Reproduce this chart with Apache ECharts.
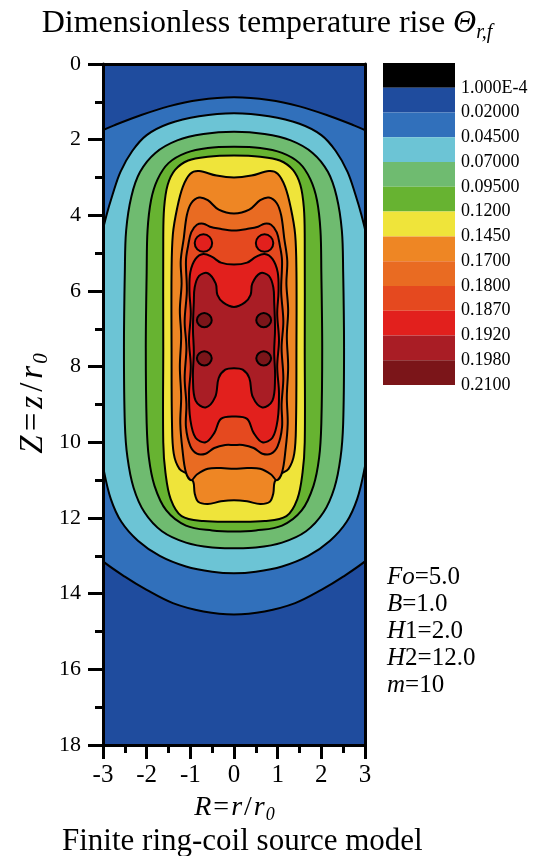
<!DOCTYPE html>
<html><head><meta charset="utf-8">
<script src="https://cdn.jsdelivr.net/npm/echarts@6/dist/echarts.min.js"></script>
<style>html,body{margin:0;padding:0;background:#fff}#c{width:534px;height:856px}</style>
</head><body><div id="c"></div>
<script>
// ---- legend levels and colours ----
const levelLabels = ['1.000E-4','0.02000','0.04500','0.07000','0.09500','0.1200','0.1450','0.1700','0.1800','0.1870','0.1920','0.1980','0.2100'];
const bandColors = ['#000000','#1f4c9e','#3170bb','#6cc4d5','#6fbb70','#67b331','#efe43a','#ee8624','#e96b22','#e5491f','#e2201d','#a91d25','#7b1519'];

// ---- contour lines, right half (R>=0), [R, Z] from top centre to bottom centre ----
const c020 = [[0,0.88],[0.8,0.95],[1.5,1.12],[2.2,1.38],[2.7,1.6],[3.05,1.78],[3.4,2.05],[3.7,2.5],[3.9,3.5],[4.0,7.5],[3.9,11.5],[3.6,12.5],[3.05,13.1],[2.5,13.55],[2.0,13.9],[1.4,14.25],[0.7,14.47],[0,14.55]];
const c045 = [[0,1.3],[0.8,1.38],[1.5,1.58],[2.0,1.88],[2.33,2.3],[2.6,2.85],[2.78,3.45],[2.92,4.0],[3.04,4.6],[3.12,5.5],[3.14,7.5],[3.08,10],[2.98,10.75],[2.82,11.5],[2.58,12.1],[2.2,12.6],[1.7,13.0],[1.1,13.28],[0.5,13.42],[0,13.46]];
const c070 = [[0,1.79],[0.7,1.85],[1.3,2.02],[1.8,2.35],[2.15,2.85],[2.35,3.5],[2.47,4.4],[2.5,5.5],[2.52,7.5],[2.5,9.5],[2.44,10.4],[2.3,11.2],[2.05,11.85],[1.65,12.35],[1.1,12.65],[0.5,12.78],[0,12.8]];
const c095 = [[0,2.19],[0.6,2.22],[1.1,2.35],[1.5,2.62],[1.75,3.05],[1.9,3.6],[1.98,4.4],[2.0,5.5],[2.02,7.5],[2.0,9.5],[1.95,10.4],[1.82,11.15],[1.55,11.8],[1.1,12.2],[0.5,12.33],[0,12.36]];
const c120 = [[0,2.42],[0.6,2.45],[1.05,2.55],[1.35,2.8],[1.52,3.2],[1.6,3.8],[1.62,4.6],[1.62,7.5],[1.62,10],[1.57,10.8],[1.45,11.5],[1.2,11.95],[0.7,12.08],[0,12.1]];
const c145 = [[0,3.0],[0.4,2.95],[0.8,2.83],[1.0,2.9],[1.17,3.24],[1.3,3.8],[1.4,4.5],[1.43,5.5],[1.43,7.5],[1.42,9.5],[1.38,10.3],[1.25,10.7],[1.05,10.85],[0.93,11.05],[0.9,11.35],[0.82,11.57],[0.6,11.63],[0.3,11.56],[0,11.53]];
const c170 = [[0,3.95],[0.35,3.85],[0.6,3.6],[0.8,3.53],[0.98,3.68],[1.08,4.0],[1.15,4.6],[1.22,5.2],[1.2,5.8],[1.24,6.5],[1.21,7.2],[1.24,8],[1.21,8.8],[1.23,9.5],[1.18,10.2],[1.1,10.8],[0.98,11.0],[0.85,10.85],[0.6,10.7],[0.3,10.68],[0,10.7]];
const c180 = [[0,4.4],[0.35,4.35],[0.55,4.3],[0.7,4.22],[0.85,4.25],[0.98,4.45],[1.05,4.8],[1.1,5.2],[1.08,6],[1.13,6.8],[1.09,7.5],[1.13,8.3],[1.09,9],[1.1,9.6],[1.0,10.1],[0.85,10.3],[0.65,10.3],[0.45,10.15],[0.2,10.07],[0,10.07]];
const c187 = [[0,5.3],[0.3,5.25],[0.5,5.1],[0.7,5.02],[0.88,5.15],[1.0,5.5],[1.02,6],[0.99,6.6],[1.03,7.3],[0.99,8],[1.03,8.7],[1.0,9.4],[0.88,9.88],[0.65,10.0],[0.45,9.75],[0.3,9.38],[0,9.32]];
const c192 = [[0,6.42],[0.25,6.3],[0.38,6.1],[0.42,5.8],[0.6,5.53],[0.8,5.6],[0.9,5.9],[0.92,6.3],[0.94,7],[0.92,7.6],[0.94,8.3],[0.88,8.9],[0.65,9.08],[0.43,8.8],[0.35,8.3],[0.2,8.08],[0,8.04]];
// islands (right-hand ones; left ones are their mirror images)
const i187 = [[0.7,4.5],[0.84,4.57],[0.9,4.73],[0.84,4.9],[0.7,4.96],[0.56,4.9],[0.5,4.73],[0.56,4.57]];
const i198a = [[0.68,6.58],[0.8,6.64],[0.85,6.77],[0.8,6.9],[0.68,6.96],[0.56,6.9],[0.51,6.77],[0.56,6.64]];
const i198b = [[0.68,7.59],[0.8,7.65],[0.85,7.78],[0.8,7.91],[0.68,7.97],[0.56,7.91],[0.51,7.78],[0.56,7.65]];

// parameter annotations
const paramLines = [['Fo','=5.0'],['B','=1.0'],['H','1=2.0'],['H','2=12.0'],['m','=10']];

function full(half){
  return half.concat(half.slice(1,-1).reverse().map(p=>[-p[0],p[1]]));
}
function mirror(pts){ return pts.map(p=>[-p[0],p[1]]); }

const shapes = [
  [full(c020), bandColors[2], 0.35],
  [full(c045), bandColors[3], 0.35],
  [full(c070), bandColors[4], 0.35],
  [full(c095), bandColors[5], 0.35],
  [full(c120), bandColors[6], 0.35],
  [full(c145), bandColors[7], 0.35],
  [full(c170), bandColors[8], 0.35],
  [full(c180), bandColors[9], 0.35],
  [i187, bandColors[10], 0.5],
  [mirror(i187), bandColors[10], 0.5],
  [full(c187), bandColors[10], 0.35],
  [full(c192), bandColors[11], 0.35],
  [i198a, bandColors[12], 0.5],
  [mirror(i198a), bandColors[12], 0.5],
  [i198b, bandColors[12], 0.5],
  [mirror(i198b), bandColors[12], 0.5]
];

const SERIF = '"Liberation Serif","Times New Roman",serif';

const contourSeries = shapes.map(([pts,color,sm]) => ({
  type:'custom', xAxisIndex:0, yAxisIndex:0, clip:true,
  data: pts,
  encode:{x:0,y:1},
  renderItem:(params, api) => {
    if (params.dataIndex !== 0) return null;
    return {
      type:'polygon',
      shape:{ points: pts.map(p=>api.coord(p)), smooth: sm },
      style:{ fill: color, stroke:'#000', lineWidth:2 }
    };
  }
}));

const colorbarSeries = {
  type:'custom', xAxisIndex:2, yAxisIndex:2,
  data: bandColors.map((c,i)=>[0,i]),
  renderItem:(params, api) => {
    const i = api.value(1);
    const p0 = api.coord([0,i]);
    const p1 = api.coord([1,i+1]);
    return { type:'rect', shape:{x:p0[0], y:p0[1], width:p1[0]-p0[0], height:p1[1]-p0[1]},
      style:{ fill: bandColors[i] } };
  }
};

function nameRich(fs, pad){
  return {
    i:{fontFamily:SERIF, fontSize:fs, fontStyle:'italic', fontWeight:'normal', color:'#000', lineHeight:fs+4, padding:[0,pad,0,pad]},
    n:{fontFamily:SERIF, fontSize:fs, fontWeight:'normal', color:'#000', lineHeight:fs+4, padding:[0,pad,0,pad]},
    s:{fontFamily:SERIF, fontSize:Math.round(fs*0.65), fontStyle:'italic', fontWeight:'normal', color:'#000', lineHeight:13, verticalAlign:'bottom'}
  };
}

const chart = echarts.init(document.getElementById('c'), null, {renderer:'canvas'});
chart.setOption({
  backgroundColor:'#fff',
  animation:false,
  title:{
    text:'{a|Dimensionless temperature rise }{t|Θ}{s|r,f}',
    left:'center', top:5, padding:0,
    textStyle:{ fontWeight:'normal', rich:{
      a:{fontFamily:SERIF, fontSize:32, fontWeight:'normal', color:'#000', lineHeight:38},
      t:{fontFamily:SERIF, fontSize:32, fontStyle:'italic', fontWeight:'normal', color:'#000', lineHeight:38},
      s:{fontFamily:SERIF, fontSize:20, fontStyle:'italic', fontWeight:'normal', color:'#000', lineHeight:16, verticalAlign:'bottom'}
    }}
  },
  grid:[
    {left:103, top:64, width:262, height:681, show:true, backgroundColor:bandColors[1], borderWidth:0},
    {left:383, top:63, width:72, height:322, show:false}
  ],
  xAxis:[
    {gridIndex:0, type:'value', min:-3, max:3, interval:1, position:'bottom', z:10,
     axisLine:{onZero:false, lineStyle:{color:'#000', width:3}},
     axisTick:{show:true, inside:false, length:14, lineStyle:{color:'#000', width:3}},
     minorTick:{show:true, splitNumber:2, length:8, lineStyle:{color:'#000', width:3}},
     splitLine:{show:false}, minorSplitLine:{show:false},
     axisLabel:{fontFamily:SERIF, fontSize:25, color:'#000', margin:18},
     name:'{i|R}{n|=}{i|r}{n|/}{i|r}{s|0}', nameLocation:'middle', nameGap:47,
     nameTextStyle:{ rich:nameRich(28, 1) }},
    {gridIndex:0, type:'value', min:-3, max:3, position:'top', z:10,
     axisLine:{onZero:false, lineStyle:{color:'#000', width:3}},
     axisTick:{show:false}, axisLabel:{show:false}, splitLine:{show:false}},
    {gridIndex:1, type:'value', min:0, max:1, show:false}
  ],
  yAxis:[
    {gridIndex:0, type:'value', min:0, max:18, interval:2, inverse:true, position:'left', z:10,
     axisLine:{onZero:false, lineStyle:{color:'#000', width:3}},
     axisTick:{show:true, inside:false, length:15, lineStyle:{color:'#000', width:3}},
     minorTick:{show:true, splitNumber:2, length:8, lineStyle:{color:'#000', width:3}},
     splitLine:{show:false}, minorSplitLine:{show:false},
     axisLabel:{fontFamily:SERIF, fontSize:22, color:'#000', margin:22},
     name:'{i|Z}{n|=}{i|z}{n|/}{i|r}{s|0}', nameLocation:'middle', nameGap:51, nameRotate:90,
     nameTextStyle:{ rich:nameRich(33, 2) }},
    {gridIndex:0, type:'value', min:0, max:18, inverse:true, position:'right', z:10,
     axisLine:{onZero:false, lineStyle:{color:'#000', width:3}},
     axisTick:{show:false}, axisLabel:{show:false}, splitLine:{show:false}},
    {gridIndex:1, type:'value', min:0, max:13, interval:1, inverse:true, position:'right',
     axisLine:{show:false}, axisTick:{show:false}, splitLine:{show:false},
     axisLabel:{fontFamily:SERIF, fontSize:18, color:'#000', margin:6,
       formatter:(v)=> v>=1 ? levelLabels[v-1] : ''}}
  ],
  graphic:[
    {type:'text', left:387, top:565, style:{
      text: paramLines.map(l=>'{i|'+l[0]+'}{n|'+l[1]+'}').join('\n'),
      rich:{
        i:{fontFamily:SERIF, fontSize:25, fontStyle:'italic', fill:'#000', lineHeight:27},
        n:{fontFamily:SERIF, fontSize:25, fill:'#000', lineHeight:27}
      }}},
    {type:'text', left:62, top:826, style:{
      text:'Finite ring-coil source model', fontFamily:SERIF, fontSize:31, fill:'#000'}}
  ],
  series: contourSeries.concat([colorbarSeries])
});
</script></body></html>
